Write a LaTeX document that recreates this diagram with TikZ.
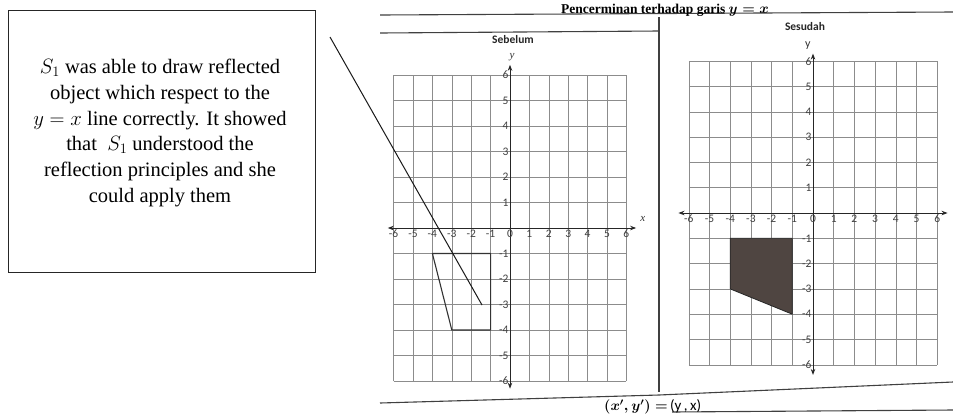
\documentclass[tikz,border=0pt]{standalone}
\usepackage{fontspec}
\setmainfont{Liberation Serif}
\setsansfont{Carlito}
\usetikzlibrary{arrows.meta}
\definecolor{polyfill}{HTML}{4F4541}
\begin{document}
\begin{tikzpicture}[x=1pt,y=-1pt,
  frame/.style={draw=black!75, line width=1.1pt},
  gridline/.style={draw=black!45, line width=0.6pt},
  axisline/.style={draw=black!85, line width=0.9pt, {Stealth[length=6pt,width=4.5pt]}-{Stealth[length=6pt,width=4.5pt]}},
  tick/.style={font=\sffamily\fontsize{11.5}{12}\selectfont, text=black!75, inner sep=1pt},
  head/.style={font=\sffamily\bfseries\fontsize{11.5}{12}\selectfont, text=black!85},
  axlab/.style={font=\fontsize{11}{11}\selectfont\itshape, text=black!80, inner sep=0pt},
  poly/.style={draw=black!80, line width=1.1pt, line join=round}]
\fill[white] (0,0) rectangle (953,416);
\useasboundingbox (0,0) rectangle (953,416);

% worksheet frame
\draw[frame] (380,15) -- (953,12);
\draw[frame] (380,33) -- (659,31);
\draw[frame] (659,17) -- (659,392);
\draw[frame] (380,403) -- (659,395) -- (953,382);
\draw[frame] (672,412) -- (953,410);
\node[font=\bfseries\fontsize{13.5}{14}\selectfont, inner sep=0pt] (title) at (665,10) {Pencerminan terhadap garis {\boldmath$y = x$}};
\node[head] (seb) at (513,40) {Sebelum};
\node[head] (ses) at (805,27) {Sesudah};
\node[anchor=west, inner sep=0pt, font=\fontsize{14}{14}\selectfont] (form) at (604,407) {{\boldmath$(x',y')=$}\,{\sffamily\fontsize{15}{15}\selectfont(y\,,\,x)}};

% left graph (Sebelum)
\begin{scope}[shift={(510pt,-228pt)}, x=19.4pt, y=25.5pt]
  \foreach \i in {-6,...,6} {
    \draw[gridline] (\i,-6) -- (\i,6);
    \draw[gridline] (-6,\i) -- (6,\i);
  }
  \draw[axisline] (-6.3,0) -- (6.5,0);
  \draw[axisline] (0,-6.3) -- (0,6.4);
  \foreach \i in {-6,...,-1,1,2,...,6} {
    \node[tick, anchor=north] (lx\i) at (\i,-0.02) {\i};
    \node[tick, anchor=east] (ly\i) at (-0.02,\i) {\i};
  }
  \node[tick, anchor=north] (lo) at (0,-0.02) {0};
  \node[axlab] (lxl) at (6.85,0.35) {x};
  \node[axlab] (lyl) at (0.1,6.7) {y};
  \draw[poly] (-4,-1) -- (-1,-1) -- (-1,-4) -- (-3,-4) -- cycle;
\end{scope}

% right graph (Sesudah)
\begin{scope}[shift={(813pt,-213pt)}, x=20.7pt, y=25.3pt]
  \foreach \i in {-6,...,6} {
    \draw[gridline] (\i,-6) -- (\i,6);
    \draw[gridline] (-6,\i) -- (6,\i);
  }
  \draw[axisline] (-6.5,0) -- (6.5,0);
  \draw[axisline] (0,-6.4) -- (0,6.3);
  \foreach \i in {-6,...,-1,1,2,...,6} {
    \node[tick, anchor=north] (rx\i) at (\i,-0.02) {\i};
    \node[tick, anchor=east] (ry\i) at (-0.02,\i) {\i};
  }
  \node[tick, anchor=north] (ro) at (0,-0.02) {0};
  \node[axlab, font=\sffamily\fontsize{12}{12}\selectfont] (ryl) at (-0.25,6.6) {y};
  \fill[polyfill] (-4,-1) -- (-1,-1) -- (-1,-4) -- (-4,-3) -- cycle;
  \draw[draw=black!85, line width=0.8pt, line join=round] (-4,-1) -- (-1,-1) -- (-1,-4) -- (-4,-3) -- cycle;
\end{scope}

% comment box
\node[draw=black!85, line width=0.9pt, minimum width=307pt, minimum height=262pt, anchor=north west, inner sep=0pt] (box) at (8,10) {};
\node[align=center, font=\fontsize{20.5}{25.7}\selectfont, inner sep=0pt] (txt) at (160,133)
  {$S_1$ was able to draw reflected\\
   object which respect to the\\
   $y = x$ line correctly. It showed\\
   that\ \ $S_1$ understood the\\
   reflection principles and she\\
   could apply them};

% pointer line
\coordinate (pa) at (330,37);
\coordinate (pb) at (482,305);
\draw[line width=1pt, black!90] (pa) -- (pb);
\end{tikzpicture}
\end{document}
